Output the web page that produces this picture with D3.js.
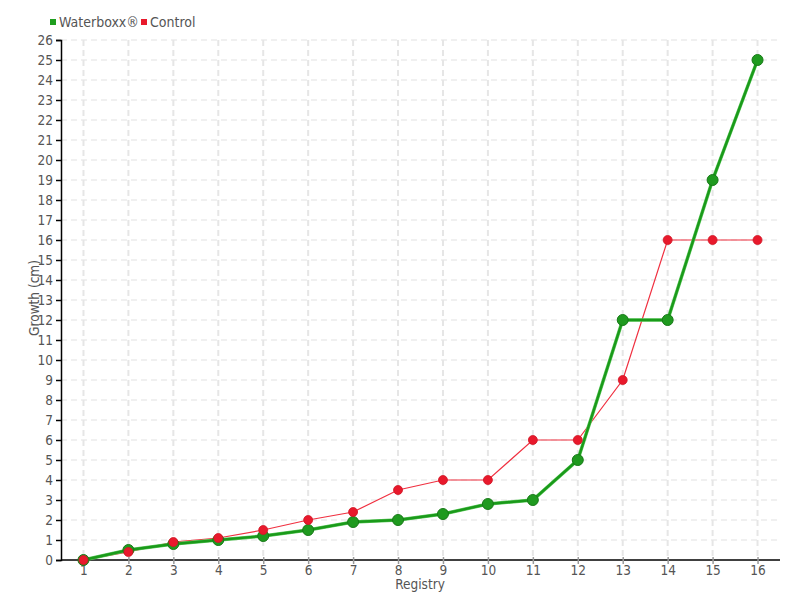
<!DOCTYPE html>
<html><head><meta charset="utf-8">
<script src="https://cdn.jsdelivr.net/npm/d3@7"></script>
<style>
body{margin:0;background:#fff;}
text{font-family:"DejaVu Sans Condensed","DejaVu Sans",sans-serif;font-stretch:condensed;}
</style></head><body>
<svg id="c" width="800" height="600"></svg>
<script>
const registry = [1,2,3,4,5,6,7,8,9,10,11,12,13,14,15,16];
const waterboxx = [0,0.5,0.8,1.0,1.2,1.5,1.9,2.0,2.3,2.8,3.0,5,12,12,19,25];
const control = [0,0.4,0.9,1.1,1.5,2.0,2.4,3.5,4,4,6,6,9,16,16,16];
const yTicks = d3.range(0,27);
const seriesNames = ["Waterboxx®","Control"];

const svg = d3.select("#c");
const x = d3.scaleLinear().domain([0.5,16.5]).range([61,780]);
const y = d3.scaleLinear().domain([0,26]).range([560,40]);

// grid
svg.append("g").selectAll("line").data(yTicks.slice(1)).join("line")
  .attr("x1",61).attr("x2",780).attr("y1",d=>y(d)).attr("y2",d=>y(d))
  .attr("stroke","#e2e2e2").attr("stroke-width",1.2).attr("stroke-dasharray","6,4");
svg.append("g").selectAll("line").data(registry).join("line")
  .attr("x1",d=>x(d)).attr("x2",d=>x(d)).attr("y1",40).attr("y2",560)
  .attr("stroke","#e6e6e6").attr("stroke-width",2).attr("stroke-dasharray","6,4");

// axes
const yAxis = d3.axisLeft(y).tickValues(yTicks).tickSize(5).tickPadding(3);
const gy = svg.append("g").attr("transform","translate(61,0)").call(yAxis);
gy.select(".domain").attr("stroke","#000").attr("stroke-width",1.5);
gy.selectAll(".tick line").attr("stroke","#000").attr("stroke-width",1.5);
gy.selectAll("text").attr("fill","#555").attr("font-size",13.5);

const xAxis = d3.axisBottom(x).tickValues(registry).tickSize(4).tickPadding(1);
const gx = svg.append("g").attr("transform","translate(0,560)").call(xAxis);
gx.select(".domain").attr("stroke","#000").attr("stroke-width",1.5).attr("d","M61,0H780");
gx.selectAll(".tick line").attr("stroke","#999").attr("stroke-width",1.5).attr("y1",-3);
gx.selectAll("text").attr("fill","#555").attr("font-size",13.5);

svg.append("text").attr("x",420).attr("y",589).attr("text-anchor","middle")
  .attr("fill","#555").attr("font-size",13.5).text("Registry");
svg.append("text").attr("transform","translate(39,298) rotate(-90)").attr("text-anchor","middle")
  .attr("fill","#555").attr("font-size",13.5).text("Growth (cm)");

// lines
const line = d3.line().x((d,i)=>x(registry[i])).y(d=>y(d));
svg.append("path").datum(control).attr("d",line).attr("fill","none")
  .attr("stroke","#f03040").attr("stroke-width",1.2);
svg.append("path").datum(waterboxx).attr("d",line).attr("fill","none")
  .attr("stroke","#5fc95f").attr("stroke-width",3.5);
svg.append("path").datum(waterboxx).attr("d",line).attr("fill","none")
  .attr("stroke","#1a9a1a").attr("stroke-width",2.4);

svg.append("g").selectAll("circle").data(waterboxx).join("circle")
  .attr("cx",(d,i)=>x(registry[i])).attr("cy",d=>y(d)).attr("r",5.5)
  .attr("fill","#1f9a1f").attr("stroke","#187a18").attr("stroke-width",1);
svg.append("g").selectAll("circle").data(control).join("circle")
  .attr("cx",(d,i)=>x(registry[i])).attr("cy",d=>y(d)).attr("r",4.5)
  .attr("fill","#e8192c").attr("stroke","#d01525").attr("stroke-width",0.8);

// legend
const legColors = ["#1f9e1f","#e8192c"];
const legX = [50,141];
seriesNames.forEach((n,i)=>{
  svg.append("rect").attr("x",legX[i]).attr("y",19).attr("width",6).attr("height",6).attr("fill",legColors[i]);
  svg.append("text").attr("x",legX[i]+9).attr("y",27).attr("fill","#555").attr("font-size",14).text(n);
});
</script></body></html>
